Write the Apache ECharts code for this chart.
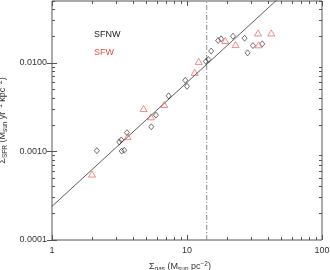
<!DOCTYPE html>
<html><head><meta charset="utf-8">
<script src="https://cdn.jsdelivr.net/npm/echarts@6/dist/echarts.min.js"></script>
<style>html,body{margin:0;padding:0;background:#fff}#c{width:330px;height:270px}</style>
</head><body><div id="c"></div>
<script>
const sfnwGas = [2.15, 3.15, 3.26, 3.28, 3.43, 3.59, 5.44, 5.89, 7.31, 9.71, 10.0, 13.8, 14.4, 15.1, 17.0, 17.9, 21.9, 26.7, 28.1, 30.8, 36.1];
const sfnwSfr = [0.00102, 0.00128, 0.00135, 0.00101, 0.00103, 0.00163, 0.0019, 0.00257, 0.00424, 0.00636, 0.00544, 0.0104, 0.0109, 0.0136, 0.0179, 0.0187, 0.0200, 0.0190, 0.0130, 0.0157, 0.0164];
const sfwGas = [1.98, 3.63, 4.77, 5.41, 6.79, 11.4, 12.2, 19.2, 22.9, 33.6, 33.9, 42.1];
const sfwSfr = [0.000555, 0.00147, 0.00305, 0.00246, 0.00339, 0.00782, 0.0104, 0.0179, 0.0161, 0.0218, 0.0160, 0.0218];
const fitGas = [1, 100];
const fitSfr = [0.00024, 0.151];
const threshGas = [14, 14];
const threshSfr = [0.0001, 0.05];
const xMajor = [1, 10, 100];
const xMinor = [2, 3, 4, 5, 6, 7, 8, 9, 20, 30, 40, 50, 60, 70, 80, 90];
const yMajor = [0.0001, 0.001, 0.01];
const yMinor = [0.0002, 0.0003, 0.0004, 0.0005, 0.0006, 0.0007, 0.0008, 0.0009, 0.002, 0.003, 0.004, 0.005, 0.006, 0.007, 0.008, 0.009, 0.02, 0.03, 0.04, 0.05];

const X_MIN = 1, X_MAX = 100, Y_MIN = 0.0001, Y_MAX = 0.05;
const FONT = '"Liberation Sans", Arial, sans-serif';
const AX = '#555';
const RED = '#f04848';
const rich = {
  a: {fontSize: 9, fontFamily: FONT, color: '#333', lineHeight: 12, verticalAlign: 'middle'},
  s: {fontSize: 6.5, fontFamily: FONT, color: '#333', lineHeight: 8, verticalAlign: 'bottom'},
  p: {fontSize: 6.5, fontFamily: FONT, color: '#333', lineHeight: 8, verticalAlign: 'top'}
};
function zip(a, b) { return a.map((v, i) => [v, b[i]]); }
const lg = a => a.map(v => Math.log10(v));

// tick-drawing overlay axes (log10 space, carry no data)
function tickAx(pos, ticks, len, lo, hi) {
  return {
    type: 'value', min: Math.log10(lo), max: Math.log10(hi), position: pos,
    axisLine: {show: false}, splitLine: {show: false}, axisLabel: {show: false},
    axisTick: {show: true, inside: true, length: len, customValues: lg(ticks), lineStyle: {color: AX, width: 1}}
  };
}

const chart = echarts.init(document.getElementById('c'), null, {renderer: 'canvas'});
chart.setOption({
  animation: false,
  backgroundColor: '#fff',
  grid: {left: 52, right: 8, top: 1, bottom: 30, outerBoundsMode: 'none', containLabel: false,
         show: true, borderColor: AX, borderWidth: 1, backgroundColor: 'transparent'},
  legend: {
    left: 83, top: 25, orient: 'vertical', itemGap: 9, itemWidth: 0, itemHeight: 0,
    textStyle: {fontSize: 9, fontFamily: FONT},
    data: [{name: 'SFNW', textStyle: {color: '#222'}}, {name: 'SFW', textStyle: {color: RED}}]
  },
  xAxis: [
    {
      type: 'log', logBase: 10, min: X_MIN, max: X_MAX, position: 'bottom',
      axisLine: {show: false}, splitLine: {show: false}, axisTick: {show: false},
      axisLabel: {show: true, margin: 6, fontSize: 9, fontFamily: FONT, color: '#333', formatter: v => String(Math.round(v))},
      name: '{a|Σ}{s|gas}{a| (M}{s|sun}{a| pc}{p|−2}{a|)}', nameLocation: 'middle', nameGap: 21,
      nameTextStyle: {rich: rich, padding: [0, 14, 0, 0]}
    },
    tickAx('bottom', xMajor, 5, X_MIN, X_MAX),
    tickAx('bottom', xMinor, 3, X_MIN, X_MAX),
    tickAx('top', xMajor, 5, X_MIN, X_MAX),
    tickAx('top', xMinor, 3, X_MIN, X_MAX)
  ],
  yAxis: [
    {
      type: 'log', logBase: 10, min: Y_MIN, max: Y_MAX, position: 'left',
      axisLine: {show: false}, splitLine: {show: false}, axisTick: {show: false},
      axisLabel: {show: true, showMaxLabel: false, margin: 5, fontSize: 9, fontFamily: FONT, color: '#333', formatter: v => Number(v).toFixed(4)},
      name: '{a|Σ}{s|SFR}{a| (M}{s|sun}{a| yr}{p|−1}{a| kpc}{p|−2}{a|)}', nameLocation: 'middle', nameGap: 38,
      nameTextStyle: {rich: rich}
    },
    tickAx('left', yMajor, 5, Y_MIN, Y_MAX),
    tickAx('left', yMinor, 3, Y_MIN, Y_MAX),
    tickAx('right', yMajor, 5, Y_MIN, Y_MAX),
    tickAx('right', yMinor, 3, Y_MIN, Y_MAX)
  ],
  series: [
    {type: 'line', name: 'fit', data: zip(fitGas, fitSfr), showSymbol: false, clip: true,
     lineStyle: {color: '#333', width: 0.8}, silent: true, z: 2},
    {type: 'line', name: 'threshold', data: zip(threshGas, threshSfr), showSymbol: false,
     lineStyle: {color: '#888', width: 1, type: [5, 2, 1, 2]}, silent: true, z: 2},
    {type: 'scatter', name: 'SFNW', data: zip(sfnwGas, sfnwSfr), symbol: 'diamond', symbolSize: [5, 6],
     itemStyle: {color: 'rgba(0,0,0,0)', borderColor: '#222', borderWidth: 0.8}, z: 3},
    {type: 'scatter', name: 'SFW', data: zip(sfwGas, sfwSfr), symbol: 'triangle', symbolSize: [7, 6],
     itemStyle: {color: 'rgba(0,0,0,0)', borderColor: RED, borderWidth: 0.8}, z: 3}
  ]
});
</script></body></html>
